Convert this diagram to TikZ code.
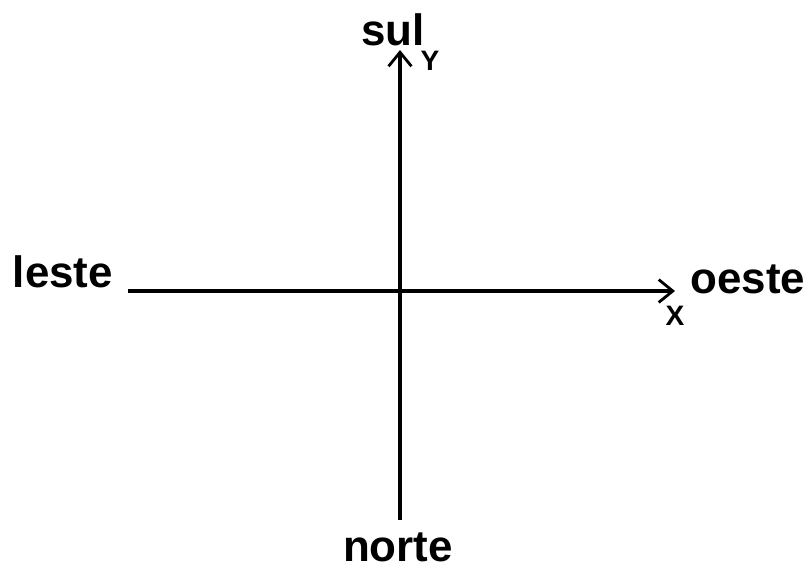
\documentclass[tikz,border=0pt]{standalone}
\usepackage{fontspec}
\setmainfont{Liberation Sans}
\usetikzlibrary{arrows.meta}

\begin{document}
\begin{tikzpicture}[x=0.02cm, y=-0.02cm,
  axis/.style={line width=2.5pt, -{Straight Barb[length=8pt, width=13pt, line width=1.6pt]}},
  dirlabel/.style={font=\fontsize{25}{30}\selectfont\bfseries, inner sep=0pt, anchor=base},
  axlabel/.style={font=\fontsize{16}{19}\selectfont\bfseries, inner sep=0pt, anchor=base}]
\useasboundingbox (0,0) rectangle (811,569);
% axis ends
\coordinate (xstart) at (128,291);
\coordinate (xend) at (675,291);
\coordinate (ystart) at (400,520);
\coordinate (yend) at (400,50);
% directions
\node[dirlabel] (sul) at (393,45) {sul};
\node[dirlabel] (norte) at (398,561) {norte};
\node[dirlabel] (leste) at (63,287) {leste};
\node[dirlabel] (oeste) at (748,293) {oeste};
\node[axlabel] (ylab) at (430,70) {Y};
\node[axlabel] (xlab) at (675,325) {X};
\draw[axis] (xstart) -- (xend);
\draw[axis] (ystart) -- (yend);
\end{tikzpicture}
\end{document}
